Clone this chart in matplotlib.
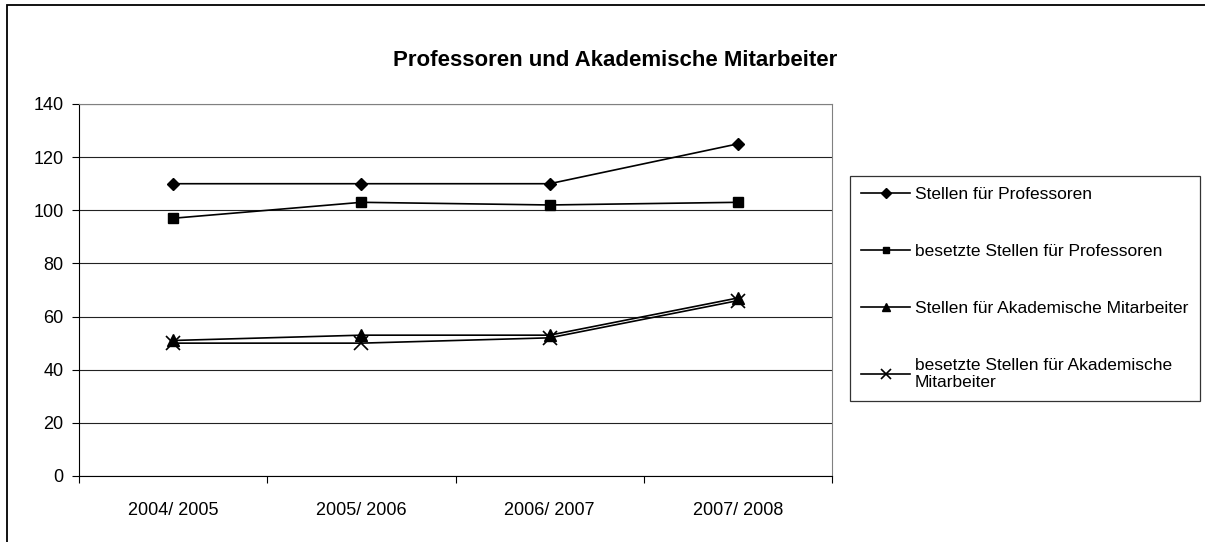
import matplotlib
matplotlib.use("Agg")
import matplotlib.pyplot as plt
from matplotlib.patches import Rectangle

plt.rcParams['font.family'] = ['Liberation Sans', 'DejaVu Sans']

# data
years = ["2004/ 2005", "2005/ 2006", "2006/ 2007", "2007/ 2008"]
stellen_prof = [110, 110, 110, 125]
besetzt_prof = [97, 103, 102, 103]
stellen_akad = [51, 53, 53, 67]
besetzt_akad = [50, 50, 52, 66]

labels = ["Stellen für Professoren",
          "besetzte Stellen für Professoren",
          "Stellen für Akademische Mitarbeiter",
          "besetzte Stellen für Akademische\nMitarbeiter"]

W, H = 1205, 542
fig = plt.figure(figsize=(W / 100, H / 100), dpi=100)
ax = fig.add_axes([79 / W, 1 - 476 / H, (832 - 79) / W, (476 - 104) / H])

x = [i + 0.5 for i in range(len(years))]
ax.plot(x, stellen_prof, color='black', lw=1.2, marker='D', ms=6.5, label=labels[0])
ax.plot(x, besetzt_prof, color='black', lw=1.2, marker='s', ms=6.5, label=labels[1])
ax.plot(x, stellen_akad, color='black', lw=1.2, marker='^', ms=8, label=labels[2])
ax.plot(x, besetzt_akad, color='black', lw=1.2, marker='x', ms=10, mew=1.2, label=labels[3])

ax.set_xlim(0, len(years))
ax.set_ylim(0, 140)
ax.set_yticks(range(0, 141, 20))
ax.yaxis.grid(True, color='#222222', lw=0.8)
ax.set_axisbelow(True)

ax.set_xticks(range(len(years) + 1))
ax.set_xticklabels([])
ax.set_xticks(x, minor=True)
ax.set_xticklabels(years, minor=True)
ax.tick_params(axis='x', which='minor', length=0, pad=19, labelsize=13)
ax.tick_params(axis='x', which='major', length=5, direction='out', width=0.8)
ax.tick_params(axis='y', length=5, direction='out', width=0.8, pad=6, labelsize=13)

for s in ['top', 'right']:
    ax.spines[s].set_color('#808080')
for s in ['left', 'bottom']:
    ax.spines[s].set_color('black')

fig.text(615 / W, 1 - 60 / H, "Professoren und Akademische Mitarbeiter",
         ha='center', va='center', fontsize=16, fontweight='bold')

leg = fig.legend(loc='upper left', bbox_to_anchor=(850 / W, 1 - 176 / H),
                 frameon=True, fancybox=False, fontsize=12.5, labelspacing=2.4,
                 handlelength=2.8, handletextpad=0.3, borderpad=0.65,
                 borderaxespad=0, markerscale=0.75)
leg.get_frame().set_edgecolor('black')
leg.get_frame().set_linewidth(0.9)

# outer chart frame (cropped at right and bottom)
fig.add_artist(Rectangle((7 / W, -0.1), 1.2, 1.1 - 5 / H, fill=False,
                         edgecolor='black', lw=1.3, transform=fig.transFigure))

fig.savefig("out.png", dpi=100)
